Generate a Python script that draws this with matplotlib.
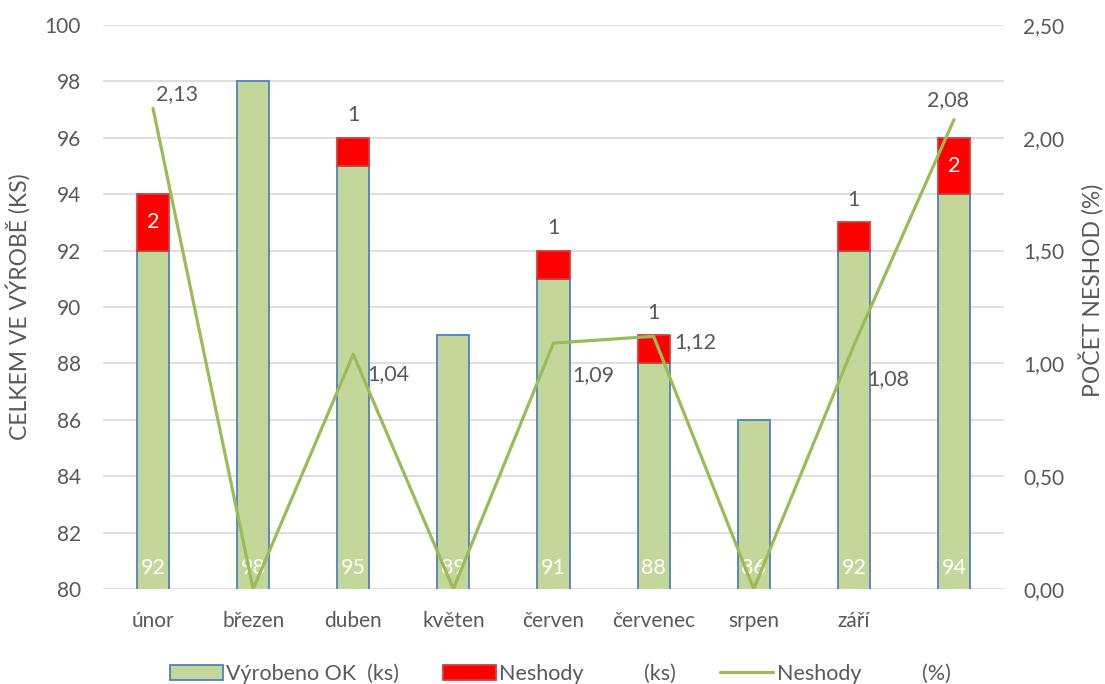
import matplotlib.pyplot as plt
import numpy as np

plt.rcParams['font.family'] = ['Lato', 'DejaVu Sans']

mesice = ["únor", "březen", "duben", "květen", "červen", "červenec", "srpen", "září", ""]
vyrobeno_ok = [92, 98, 95, 89, 91, 88, 86, 92, 94]
neshody_ks = [2, 0, 1, 0, 1, 1, 0, 1, 2]
neshody_pct = [2.13, 0.00, 1.04, 0.00, 1.09, 1.12, 0.00, 1.08, 2.08]

GREEN = "#c4d79b"
BLUE = "#4f81bd"
RED = "#ff0000"
LINE = "#9bbb59"
GRAY = "#595959"

fig = plt.figure(figsize=(11.05, 6.84), dpi=100)
ax = fig.add_axes([0.0932, 0.1389, 0.8154, 0.8246])
ax2 = ax.twinx()

x = np.arange(len(mesice))
w = 0.32

ax.bar(x, vyrobeno_ok, w, color=GREEN, edgecolor=BLUE, linewidth=1.3, zorder=2,
       label="Výrobeno OK  (ks)")
# nulové neshody se nekreslí
idx = [i for i, n in enumerate(neshody_ks) if n > 0]
ax.bar(x[idx], [neshody_ks[i] for i in idx], w, bottom=[vyrobeno_ok[i] for i in idx],
       color=RED, edgecolor="#d04040", linewidth=1.3, zorder=2,
       label="Neshody           (ks)")

ax.set_ylim(80, 100)
ax.set_xlim(-0.5, len(mesice) - 0.5)
ax.set_yticks(np.arange(80, 101, 2))
ax.set_xticks(x)
ax.set_xticklabels(mesice)
ax.grid(axis="y", color="#d9d9d9", linewidth=1.2, zorder=0)
ax.set_axisbelow(True)
ax.tick_params(length=0, colors=GRAY, labelsize=15)
ax.tick_params(axis="x", pad=16)
ax.tick_params(axis="y", pad=16)
for s in ax.spines.values():
    s.set_visible(False)
ax.set_ylabel("CELKEM VE VÝROBĚ (KS)", color=GRAY, fontsize=16.5)
ax.yaxis.set_label_coords(-0.08, 0.5)

# hodnoty OK kusů u spodku sloupců
for i, v in enumerate(vyrobeno_ok):
    ax.text(x[i], 80.75, str(v), ha="center", va="center", color="white", fontsize=15.5, zorder=3)

# počty neshod
for i, (v, n) in enumerate(zip(vyrobeno_ok, neshody_ks)):
    if n == 0:
        continue
    if n >= 2:
        ax.text(x[i], v + n / 2, str(n), ha="center", va="center", color="white",
                fontsize=15.5, zorder=3)
    else:
        ax.text(x[i], v + n + 0.8, str(n), ha="center", va="center", color=GRAY,
                fontsize=15.5, zorder=3)

ax2.plot(x, neshody_pct, color=LINE, linewidth=2.3, label="Neshody           (%)",
         solid_capstyle="round")
ax2.set_ylim(0, 2.5)
ax2.set_yticks(np.arange(0, 2.51, 0.5))
ax2.set_yticklabels([f"{t:.2f}".replace(".", ",") for t in np.arange(0, 2.51, 0.5)])
ax2.tick_params(length=0, colors=GRAY, labelsize=15, pad=14)
for s in ax2.spines.values():
    s.set_visible(False)
ax2.set_ylabel("POČET NESHOD (%)", color=GRAY, fontsize=16.5)
ax2.yaxis.set_label_coords(1.083, 0.53)

# popisky procent
offsets = {0: (17, 10), 2: (25, -14), 4: (29, -23), 5: (30, -4), 7: (25, -24), 8: (-4, 14)}
for i, p in enumerate(neshody_pct):
    if p == 0:
        continue
    dx, dy = offsets.get(i, (20, 10))
    ax2.annotate(f"{p:.2f}".replace(".", ","), (x[i], p), xytext=(dx, dy),
                 textcoords="offset points", ha="center", va="center",
                 color=GRAY, fontsize=15.5)

h1, l1 = ax.get_legend_handles_labels()
h2, l2 = ax2.get_legend_handles_labels()
fig.legend(h1 + h2, l1 + l2, loc="lower center", bbox_to_anchor=(0.507, -0.028), ncol=3,
           frameon=False, fontsize=15.5, labelcolor=GRAY, handlelength=2.46,
           handletextpad=0.15, columnspacing=2.05)

fig.savefig("out.png", dpi=100)
